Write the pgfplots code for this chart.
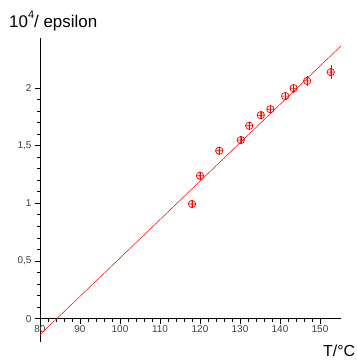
\documentclass[border=0pt]{standalone}
\usepackage{fontspec}
\setmainfont{Liberation Sans}
\usepackage{pgfplots}
\pgfplotsset{compat=1.18}
\usepackage{pgfplotstable}

% measured values: temperature, 10^4/epsilon, error
\pgfplotstableread{
T      y      ey
118.0  0.993  0.035
120.0  1.238  0.035
124.8  1.455  0.035
130.2  1.547  0.035
132.3  1.671  0.035
135.2  1.763  0.035
137.6  1.815  0.035
141.3  1.928  0.035
143.4  1.997  0.040
146.8  2.060  0.040
152.7  2.136  0.060
}\measured

\begin{document}
\begin{tikzpicture}
\useasboundingbox (0,0) rectangle (357bp,360bp);
\begin{axis}[
  at={(40bp,18.3bp)}, anchor=south west,
  x=4bp, y=115.4bp,
  xmin=80, xmax=155.2, ymin=-0.2, ymax=2.43,
  axis x line=middle, axis y line=left,
  axis line style={-, black, line width=0.6pt},
  hide obscured x ticks=false,
  xtick={80,90,...,150}, minor x tick num=4,
  ytick={0,0.5,1,1.5,2}, minor y tick num=4,
  ytick align=outside,
  major tick length=5bp, minor tick length=3bp,
  tick style={black, line width=0.6pt},
  major x tick style={yshift=-2.5bp},
  minor x tick style={yshift=-1.5bp},
  ticklabel style={font=\fontsize{10}{12}\selectfont, text=black!75},
  /pgf/number format/assume math mode=true,
  /pgf/number format/use comma,
  /pgf/number format/1000 sep={},
  xticklabel style={yshift=-1bp},
  clip=true,
]
\addplot[red, line width=0.5pt] coordinates {(80,-0.14) (155.2,2.362)};
\addplot[red, only marks, mark=oplus, mark size=3.7bp,
  mark options={line width=0.7pt},
  error bars/.cd, y dir=both, y explicit,
  error mark=none, error bar style={red, line width=0.6pt}]
  table[x=T, y=y, y error=ey] {\measured};
\end{axis}
\node[anchor=base west, inner sep=0, font=\fontsize{17}{20}\selectfont]
  at (9bp,332bp) {10\raisebox{0.55em}{\fontsize{11}{11}\selectfont 4}/ epsilon};
\node[anchor=base west, inner sep=0, font=\fontsize{16}{19}\selectfont]
  at (323bp,4bp) {T/°C};
\end{tikzpicture}
\end{document}
